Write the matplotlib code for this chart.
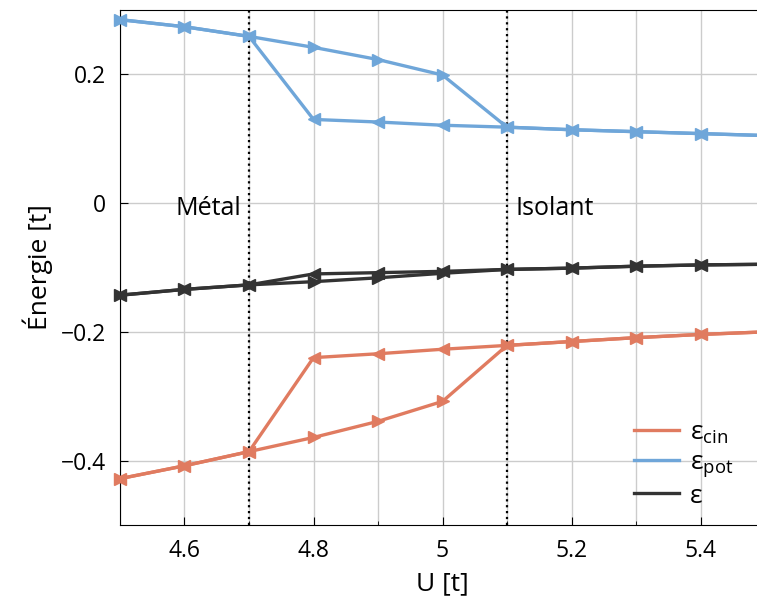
import numpy as np
import matplotlib.pyplot as plt
from matplotlib.lines import Line2D
from matplotlib.ticker import MultipleLocator

plt.rcParams['font.family'] = ['Open Sans', 'DejaVu Sans']
plt.rcParams['mathtext.fontset'] = 'custom'
plt.rcParams['mathtext.rm'] = 'Open Sans'

U = [4.5, 4.6, 4.7, 4.8, 4.9, 5.0, 5.1, 5.2, 5.3, 5.4, 5.5]

# montee en U (triangles vers la droite)
cin_up = [-0.428, -0.408, -0.386, -0.364, -0.339, -0.308, -0.221, -0.215, -0.209, -0.204, -0.200]
pot_up = [0.285, 0.274, 0.259, 0.242, 0.223, 0.199, 0.118, 0.114, 0.111, 0.108, 0.105]
tot_up = [-0.143, -0.134, -0.127, -0.122, -0.116, -0.109, -0.103, -0.101, -0.098, -0.096, -0.095]

# descente en U (triangles vers la gauche)
cin_down = [-0.428, -0.408, -0.386, -0.240, -0.234, -0.227, -0.221, -0.215, -0.209, -0.204, -0.200]
pot_down = [0.285, 0.274, 0.259, 0.130, 0.126, 0.121, 0.118, 0.114, 0.111, 0.108, 0.105]
tot_down = [-0.143, -0.134, -0.127, -0.110, -0.108, -0.106, -0.103, -0.101, -0.098, -0.096, -0.095]

transitions = [4.7, 5.1]

xticks = [4.6, 4.8, 5.0, 5.2, 5.4]
xlabels = ['4.6', '4.8', '5', '5.2', '5.4']
yticks = [-0.4, -0.2, 0.0, 0.2]
ylabels = ['\u22120.4', '\u22120.2', '0', '0.2']

c_cin = '#e07b60'
c_pot = '#6fa6d9'
c_tot = '#333333'

fig = plt.figure(figsize=(7.57, 6.05), dpi=100)
ax = fig.add_axes([120/757, 80/605, 645/757, 515/605])

for up, down, c in [(cin_up, cin_down, c_cin), (pot_up, pot_down, c_pot), (tot_up, tot_down, c_tot)]:
    ax.plot(U, up, color=c, lw=2.4, marker='>', ms=8, zorder=3, clip_on=False)
    ax.plot(U, down, color=c, lw=2.4, marker='<', ms=8, zorder=3, clip_on=False)

for xt in transitions:
    ax.axvline(xt, color='black', ls=':', lw=1.6, zorder=2)

ax.text(4.688, -0.008, 'Métal', ha='right', va='center', fontsize=18)
ax.text(5.113, -0.008, 'Isolant', ha='left', va='center', fontsize=18)

ax.set_xlim(4.5, 5.5)
ax.set_ylim(-0.5, 0.30)
ax.set_xticks(xticks)
ax.set_xticklabels(xlabels)
ax.set_yticks(yticks)
ax.set_yticklabels(ylabels)
ax.xaxis.set_minor_locator(MultipleLocator(0.1))
ax.grid(True, which='both', axis='x', color='#cccccc', lw=1)
ax.grid(True, which='major', axis='y', color='#cccccc', lw=1)
ax.set_axisbelow(True)
ax.tick_params(which='both', direction='in', labelsize=16.5, pad=10)
ax.tick_params(which='minor', length=3)
ax.tick_params(which='major', length=6)

ax.set_xlabel('U [t]', fontsize=19, labelpad=6)
ax.set_ylabel('Énergie [t]', fontsize=19, labelpad=6)

handles = [Line2D([], [], color=c_cin, lw=2.4),
           Line2D([], [], color=c_pot, lw=2.4),
           Line2D([], [], color=c_tot, lw=2.4)]
labels = ['\u03b5$_{\\rm cin}$', '\u03b5$_{\\rm pot}$', '\u03b5']
fig.legend(handles, labels, loc='lower right', bbox_to_anchor=(1.0, 0.12),
           frameon=False, fontsize=19, handlelength=1.7, handletextpad=0.4,
           labelspacing=0.15)

fig.savefig('out.png', dpi=100)
